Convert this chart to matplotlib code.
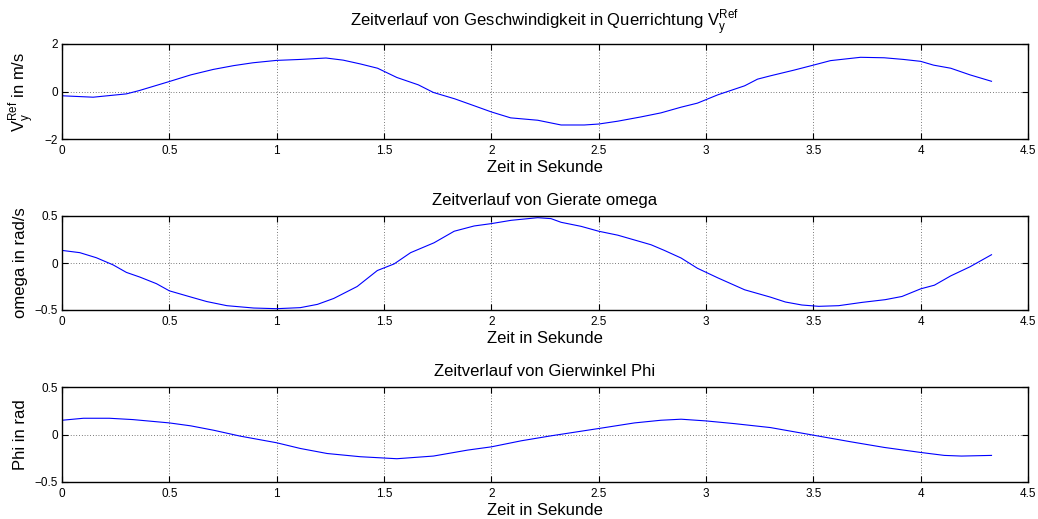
import matplotlib
matplotlib.use("Agg")
import matplotlib.pyplot as plt

plt.rcParams['font.family'] = ['Liberation Sans', 'DejaVu Sans']
plt.rcParams['mathtext.fontset'] = 'custom'
plt.rcParams['mathtext.rm'] = 'Liberation Sans'

# --- data: lateral velocity V_y^Ref (m/s)
t_v = [0.0, 0.145, 0.3, 0.36, 0.5, 0.6, 0.705, 0.8, 0.89, 1.0, 1.11, 1.23, 1.31, 1.39,
       1.47, 1.56, 1.66, 1.73, 1.83, 1.92, 2.0, 2.09, 2.216, 2.325, 2.433, 2.5, 2.589,
       2.697, 2.79, 2.884, 2.96, 3.055, 3.18, 3.24, 3.30, 3.41, 3.5, 3.58, 3.72, 3.83,
       3.92, 4.0, 4.06, 4.14, 4.23, 4.33]
v_y = [-0.18, -0.24, -0.1, 0.04, 0.42, 0.7, 0.93, 1.09, 1.21, 1.31, 1.35, 1.41, 1.32, 1.16,
       0.98, 0.59, 0.28, -0.04, -0.31, -0.6, -0.86, -1.11, -1.21, -1.41, -1.41, -1.37, -1.25,
       -1.07, -0.9, -0.66, -0.49, -0.14, 0.24, 0.52, 0.66, 0.9, 1.11, 1.3, 1.44, 1.42,
       1.35, 1.27, 1.11, 0.98, 0.7, 0.43]

# --- data: yaw rate omega (rad/s)
t_w = [0.0, 0.083, 0.16, 0.238, 0.3, 0.363, 0.44, 0.5, 0.597, 0.674, 0.768, 0.893, 1.0,
       1.11, 1.19, 1.266, 1.375, 1.469, 1.547, 1.624, 1.733, 1.827, 1.92, 2.0, 2.092,
       2.216, 2.278, 2.325, 2.418, 2.5, 2.589, 2.697, 2.744, 2.806, 2.884, 2.96, 3.055,
       3.18, 3.30, 3.37, 3.447, 3.525, 3.618, 3.727, 3.835, 3.913, 4.0, 4.064, 4.14,
       4.23, 4.33]
omega = [0.134, 0.11, 0.056, -0.02, -0.1, -0.15, -0.22, -0.296, -0.36, -0.41, -0.454,
         -0.479, -0.486, -0.475, -0.44, -0.377, -0.25, -0.08, -0.01, 0.11, 0.215, 0.338,
         0.394, 0.419, 0.454, 0.482, 0.472, 0.433, 0.39, 0.338, 0.296, 0.225, 0.194, 0.134,
         0.053, -0.056, -0.158, -0.285, -0.363, -0.415, -0.447, -0.461, -0.454, -0.419,
         -0.39, -0.356, -0.275, -0.236, -0.137, -0.04, 0.088]

# --- data: yaw angle Phi (rad)
t_p = [0.0, 0.1, 0.22, 0.33, 0.5, 0.6, 0.706, 0.83, 1.0, 1.11, 1.235, 1.39, 1.56, 1.73,
       1.89, 2.0, 2.14, 2.278, 2.5, 2.667, 2.79, 2.884, 3.0, 3.13, 3.30, 3.5, 3.675, 3.83,
       4.0, 4.11, 4.19, 4.33]
phi = [0.15, 0.171, 0.171, 0.157, 0.122, 0.091, 0.045, -0.017, -0.087, -0.147, -0.2,
       -0.234, -0.255, -0.227, -0.164, -0.13, -0.066, -0.014, 0.063, 0.122, 0.15, 0.161,
       0.143, 0.115, 0.073, -0.007, -0.077, -0.136, -0.189, -0.22, -0.227, -0.22]

x_ticks = [0, 0.5, 1, 1.5, 2, 2.5, 3, 3.5, 4, 4.5]
x_ticklabels = ['0', '0.5', '1', '1.5', '2', '2.5', '3', '3.5', '4', '4.5']

panels = [
    dict(t=t_v, y=v_y, ylim=(-2, 2), yticks=[-2, 0, 2], yticklabels=['\u22122', '0', '2'],
         title=r'Zeitverlauf von Geschwindigkeit in Querrichtung V$_\mathrm{y}^\mathrm{Ref}$',
         ylabel=r'V$_\mathrm{y}^\mathrm{Ref}$ in m/s', tpad=13),
    dict(t=t_w, y=omega, ylim=(-0.5, 0.5), yticks=[-0.5, 0, 0.5],
         yticklabels=['\u22120.5', '0', '0.5'],
         title='Zeitverlauf von Gierate omega', ylabel='omega in rad/s', tpad=8),
    dict(t=t_p, y=phi, ylim=(-0.5, 0.5), yticks=[-0.5, 0, 0.5],
         yticklabels=['\u22120.5', '0', '0.5'],
         title='Zeitverlauf von Gierwinkel Phi', ylabel='Phi in rad', tpad=8),
]

fig = plt.figure(figsize=(10.38, 5.19), dpi=100)
W, H = 1038, 519
boxes = [(44, 139), (216, 310), (387, 482)]
left_px, right_px = 62, 1028

for p, (top, bot) in zip(panels, boxes):
    ax = fig.add_axes([left_px / W, 1 - bot / H, (right_px - left_px) / W, (bot - top) / H])
    ax.plot(p['t'], p['y'], color='#0000ff', lw=0.8)
    ax.set_xlim(0, 4.5)
    ax.set_ylim(*p['ylim'])
    ax.set_xticks(x_ticks)
    ax.set_xticklabels(x_ticklabels)
    ax.set_yticks(p['yticks'])
    ax.set_yticklabels(p['yticklabels'])
    ax.grid(True, linestyle=(0, (1, 3)), color='black', lw=0.5)
    ax.tick_params(direction='in', length=4, width=0.8, labelsize=8.5,
                   top=True, right=True)
    ax.tick_params(axis='x', pad=4.5)
    ax.tick_params(axis='y', pad=3)
    for s in ax.spines.values():
        s.set_linewidth(1.0)
    ax.set_title(p['title'], fontsize=12, pad=p['tpad'])
    ax.set_xlabel('Zeit in Sekunde', fontsize=12, labelpad=2)
    ax.set_ylabel(p['ylabel'], fontsize=12, va='baseline')
    ax.yaxis.set_label_coords((25 - left_px) / (right_px - left_px), 0.5)

fig.savefig('out.png', dpi=100)
